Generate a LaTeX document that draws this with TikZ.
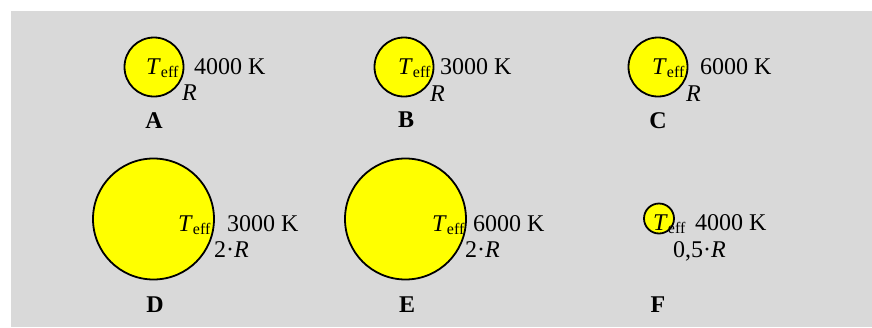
\documentclass[tikz,border=0pt]{standalone}
\usepackage{fontspec}
\setmainfont{Liberation Serif}
\usepackage{xcolor}

\definecolor{panel}{RGB}{217,217,217}
\definecolor{sunfill}{RGB}{255,255,0}
\newcommand{\teff}{\textit{T}\raisebox{-3.5pt}{\fontsize{16}{16}\selectfont eff}}

\begin{document}
\begin{tikzpicture}[
    x=1pt, y=-1pt,
    disc/.style={
        circle,
        draw=black,
        fill=sunfill,
        line width=1.8pt,
        inner sep=0pt
    },
    txt/.style={
        anchor=base west,
        inner sep=0pt,
        font=\fontsize{24}{28}\selectfont
    },
    tag/.style={
        anchor=base,
        inner sep=0pt,
        font=\fontsize{24}{28}\selectfont\bfseries
    }
]

\useasboundingbox (0,0) rectangle (872,327);
\fill[panel] (11,11) rectangle (872,327);

\node[disc, minimum size=59pt] (starA) at (154,67) {};
\node[disc, minimum size=59pt] (starB) at (404,67) {};
\node[disc, minimum size=59pt] (starC) at (658,67) {};

\node[disc, minimum size=121pt] (starD) at (153.5,219) {};
\node[disc, minimum size=121pt] (starE) at (405.5,219) {};
\node[disc, minimum size=30pt] (starF) at (659,218.5) {};

\node[txt] (teffA) at (146,74) {\teff};
\node[txt] (tempA) at (194,74) {4000 K};
\node[txt] (radA) at (182,100) {\textit{R}};
\node[tag] (labA) at (154,128) {A};

\node[txt] (teffB) at (398,74) {\teff};
\node[txt] (tempB) at (440,74) {3000 K};
\node[txt] (radB) at (430,101) {\textit{R}};
\node[tag] (labB) at (406,127) {B};

\node[txt] (teffC) at (652,74) {\teff};
\node[txt] (tempC) at (700,74) {6000 K};
\node[txt] (radC) at (686,101) {\textit{R}};
\node[tag] (labC) at (658,128) {C};

\node[txt] (teffD) at (178,231) {\teff};
\node[txt] (tempD) at (227,231) {3000 K};
\node[txt] (radD) at (214,257) {2·\textit{R}};
\node[tag] (labD) at (155,312) {D};

\node[txt] (teffE) at (432,231) {\teff};
\node[txt] (tempE) at (473,231) {6000 K};
\node[txt] (radE) at (465,257) {2·\textit{R}};
\node[tag] (labE) at (407,312) {E};

\node[txt] (teffF) at (653,230) {\teff};
\node[txt] (tempF) at (695,230) {4000 K};
\node[txt] (radF) at (673,257) {0,5·\textit{R}};
\node[tag] (labF) at (658,312) {F};

\end{tikzpicture}
\end{document}
